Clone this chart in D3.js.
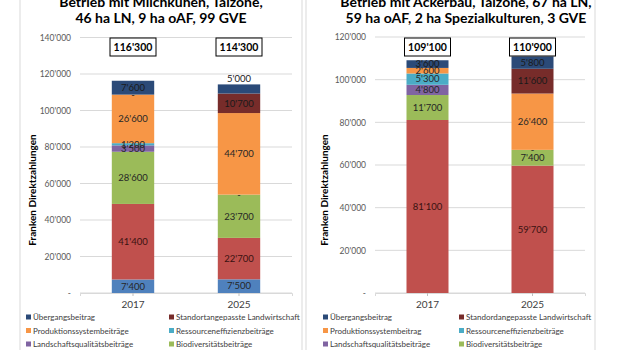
<!DOCTYPE html>
<html>
<head>
<meta charset="utf-8">
<script src="https://cdn.jsdelivr.net/npm/d3@7"></script>
<style>
  body { margin: 0; background: #fff; }
  svg { display: block; font-family: Lato, "Open Sans", sans-serif; }
</style>
</head>
<body>
<div id="visualization"></div>
<script>
// categories and series (stack order bottom -> top)
var years = ["2017", "2025"];
var seriesNames = ["Versorgungssicherheitsbeiträge", "Kulturlandschaftsbeiträge", "Biodiversitätsbeiträge",
  "Landschaftsqualitätsbeiträge", "Ressourceneffizienzbeiträge", "Produktionssystembeiträge",
  "Standortangepasste Landwirtschaft", "Übergangsbeitrag"];
var seriesColors = ["#4f81bd", "#c0504d", "#9bbb59", "#8064a2", "#4bacc6", "#f79646", "#772c2a", "#2b4a78"];

// Betrieb mit Milchkühen
var milch2017 = [7400, 41400, 28600, 3500, 1200, 26600, 0, 7600];
var milch2025 = [7500, 22700, 23700, 0, 0, 44700, 10700, 5000];
var milchTotals = [116300, 114300];
var milchTicks = [0, 20000, 40000, 60000, 80000, 100000, 120000, 140000];

// Betrieb mit Ackerbau
var acker2017 = [0, 81100, 11700, 4800, 5300, 2600, 0, 3600];
var acker2025 = [0, 59700, 7400, 0, 0, 26400, 11600, 5800];
var ackerTotals = [109100, 110900];
var ackerTicks = [0, 20000, 40000, 60000, 80000, 100000, 120000];

// legend order (indices into seriesNames), two columns
var legendOrder = [7, 6, 5, 4, 3, 2, 1, 0];
var ackerLegendNames = seriesNames.slice();
ackerLegendNames[5] = "Produktionssystembeitrag";
ackerLegendNames[6] = "Standordangepasste Landwirtschaft";

var loc = d3.formatLocale({decimal: ".", thousands: "'", grouping: [3], currency: ["", ""]});
var fmt = function(v) { return v === 0 ? "-" : loc.format(",")(v); };

var W = 620, H = 350;
var svg = d3.select("#visualization").append("svg")
    .attr("width", W)
    .attr("height", H);

function drawChart(cfg) {
    var g = svg.append("g");

    // panel frame
    g.append("rect")
        .attr("x", cfg.frame[0]).attr("y", -5)
        .attr("width", cfg.frame[1] - cfg.frame[0]).attr("height", H + 10)
        .attr("fill", "none").attr("stroke", "#d9d9d9");

    // title
    var t = g.append("text")
        .attr("x", cfg.titleX).attr("y", 7)
        .attr("text-anchor", "middle")
        .attr("font-size", "14px").attr("font-weight", "bold").attr("fill", "#000");
    cfg.title.forEach(function(line, i) {
        t.append("tspan").attr("x", cfg.titleX).attr("dy", i === 0 ? 0 : 16).text(line);
    });

    var x = d3.scaleBand().domain(years).range([cfg.left, cfg.right]).paddingInner(0).paddingOuter(0);
    var y = d3.scaleLinear().domain([0, d3.max(cfg.ticks)]).range([cfg.bottom, cfg.top]);
    var bw = x.bandwidth() * 0.4;

    // gridlines
    g.selectAll(".grid").data(cfg.ticks).enter().append("line")
        .attr("x1", cfg.left).attr("x2", cfg.right)
        .attr("y1", function(d) { return y(d); }).attr("y2", function(d) { return y(d); })
        .attr("stroke", "#d9d9d9").attr("stroke-width", 1);

    // y axis
    var ya = g.append("g")
        .attr("transform", "translate(" + cfg.left + ",0)")
        .call(d3.axisLeft(y).tickValues(cfg.ticks).tickFormat(fmt).tickSize(0).tickPadding(9));
    ya.select(".domain").remove();
    ya.selectAll("text").attr("font-size", "8.5px").attr("fill", "#595959")
        .attr("font-family", "Lato, sans-serif");

    // x axis
    var xa = g.append("g")
        .attr("transform", "translate(0," + cfg.bottom + ")")
        .call(d3.axisBottom(x).tickSize(3).tickPadding(5));
    xa.select(".domain").attr("stroke", "#d9d9d9");
    xa.selectAll(".tick line").attr("stroke", "#bfbfbf");
    xa.selectAll("text").attr("font-size", "10px").attr("fill", "#404040")
        .attr("font-family", "Lato, sans-serif");

    // y title
    g.append("text")
        .attr("transform", "translate(" + cfg.yTitleX + "," + cfg.yTitleY + ") rotate(-90)")
        .attr("text-anchor", "middle")
        .attr("font-size", "10px").attr("font-weight", "bold").attr("fill", "#000")
        .text("Franken Direktzahlungen");

    // stacked bars
    var rows = years.map(function(yr, i) {
        var o = {year: yr};
        seriesNames.forEach(function(s, k) { o[s] = cfg.values[i][k]; });
        return o;
    });
    var stacked = d3.stack().keys(seriesNames)(rows);

    stacked.forEach(function(layer, k) {
        g.selectAll(".seg" + k).data(layer).enter().append("rect")
            .attr("x", function(d) { return x(d.data.year) + (x.bandwidth() - bw) / 2; })
            .attr("width", bw)
            .attr("y", function(d) { return y(d[1]); })
            .attr("height", function(d) { return y(d[0]) - y(d[1]); })
            .attr("fill", seriesColors[k]);
    });

    // segment labels
    stacked.forEach(function(layer, k) {
        layer.forEach(function(d, i) {
            var v = d[1] - d[0];
            if (v === 0) {
                // zero labels only where they can be seen
                if (k === 0 || k === 4) return;
                var above = stacked[k + 1] ? stacked[k + 1][i] : null;
                if (above && above[1] - above[0] < 5000 && above[1] - above[0] > 0) return;
            }
            var ly = (y(d[0]) + y(d[1])) / 2;
            if (k === seriesNames.length - 1 && cfg.topAbove[i]) ly = y(d[1]) - 6;
            g.append("text")
                .attr("x", x(d.data.year) + x.bandwidth() / 2)
                .attr("y", ly)
                .attr("dy", "0.35em")
                .attr("text-anchor", "middle")
                .attr("font-size", "9.5px")
                .attr("fill", k === 1 ? "#3a1211" : (k === 6 || k === 7 ? "#1a1a1a" : "#262626"))
                .text(fmt(v));
        });
    });

    // total boxes
    years.forEach(function(yr, i) {
        var cx = x(yr) + x.bandwidth() / 2;
        var by = cfg.boxY;
        g.append("rect")
            .attr("x", cx - 23).attr("y", by)
            .attr("width", 46).attr("height", 18)
            .attr("fill", "#fff").attr("stroke", "#000").attr("stroke-width", 1);
        g.append("text")
            .attr("x", cx).attr("y", by + 9).attr("dy", "0.35em")
            .attr("text-anchor", "middle")
            .attr("font-size", "10.5px").attr("font-weight", "bold").attr("fill", "#000")
            .text(fmt(cfg.totals[i]));
    });

    // legend
    var lg = g.append("g");
    legendOrder.forEach(function(k, j) {
        var col = j % 2, row = Math.floor(j / 2);
        var lx = cfg.legendX[col], ly = 317.5 + row * 13.5;
        lg.append("rect")
            .attr("x", lx).attr("y", ly - 3)
            .attr("width", 5).attr("height", 5)
            .attr("fill", seriesColors[k]);
        lg.append("text")
            .attr("x", lx + 7).attr("y", ly).attr("dy", "0.35em")
            .attr("font-size", "8px").attr("fill", "#404040")
            .text(cfg.legendNames[k]);
    });
}

drawChart({
    frame: [20, 302],
    title: ["Betrieb mit Milchkühen, Talzone,", "46 ha LN, 9 ha oAF, 99 GVE"],
    titleX: 161,
    left: 80, right: 292, top: 37.5, bottom: 293,
    ticks: milchTicks,
    values: [milch2017, milch2025],
    totals: milchTotals,
    topAbove: [false, true],
    boxY: 38,
    yTitleX: 36, yTitleY: 190,
    legendX: [26, 169],
    legendNames: seriesNames
});

drawChart({
    frame: [306, 595],
    title: ["Betrieb mit Ackerbau, Talzone, 67 ha LN,", "59 ha oAF, 2 ha Spezialkulturen, 3 GVE"],
    titleX: 466,
    left: 375, right: 585, top: 37, bottom: 293,
    ticks: ackerTicks,
    values: [acker2017, acker2025],
    totals: ackerTotals,
    topAbove: [false, false],
    boxY: 38,
    yTitleX: 328, yTitleY: 190,
    legendX: [323, 459],
    legendNames: ackerLegendNames
});
</script>
</body>
</html>
